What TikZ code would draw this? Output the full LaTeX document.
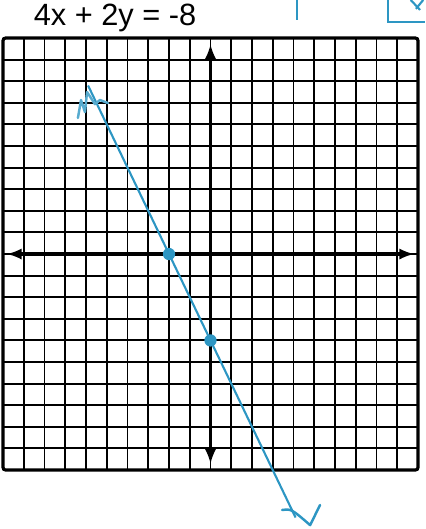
\documentclass[tikz,border=0pt]{standalone}
\usepackage{fontspec}
\setmainfont{Liberation Sans}
\usepackage{tikz}
\usetikzlibrary{arrows}
\usetikzlibrary{calc}

\definecolor{pen}{RGB}{45,150,195}

\begin{document}
\begin{tikzpicture}[x=0.415cm, y=0.432cm]
	\useasboundingbox (-10.145,-12.73) rectangle (10.34,11.76);
	\def\n{10} % half width of the grid
	\coordinate (O) at (0,0);
	\coordinate (SW) at (-\n,-\n);
	\coordinate (NE) at (\n,\n);
	
	% equation
	\node[font=\fontsize{17.5}{20}\selectfont, inner sep=0pt] (title) at (-4.6,10.93) {4x + 2y = -8};
	
	% grid
	\draw[line width=1.1pt, step=1] (SW) grid (NE);
	\draw[line width=1.8pt, rounded corners=1.5pt] (SW) rectangle (NE);
	
	% axes
	\draw[latex-latex, line width=1.8pt] (-9.8,0) -- (9.8,0);
	\draw[latex-latex, line width=1.8pt] (0,-9.7) -- (0,9.7);
	
	% line through the intercepts
	\coordinate (XI) at (-2,0);
	\coordinate (YI) at (0,-4);
	\coordinate (P) at (-5.9,7.8);
	\coordinate (Q) at (4.1,-12.2);
	\draw[pen, line width=1.2pt] (P) -- (Q);
	\fill[pen] (XI) circle (3.5pt);
	\fill[pen] (YI) circle (3.5pt);
	
	% hand drawn ends
	\draw[pen!80, line width=1.4pt, line cap=round, line join=round]
		(-6.39,6.30) -- (-6.24,7.13) -- (-6.05,6.57) -- (-5.95,7.5) -- (-5.57,6.94) -- (-5.33,7.13) -- (-4.94,6.99);
	\draw[pen, line width=1.4pt, line cap=round, line join=round]
		(3.45,-11.85) .. controls (3.9,-11.8) .. (4.8,-12.55) -- (5.28,-11.62);
	
	% marks cut off at the top
	\draw[pen, line width=1.2pt] (4.17,11.76) -- (4.17,10.83);
	\draw[pen, line width=1.2pt] (8.55,11.76) -- (8.55,10.74) -- (10.34,10.74);
	\draw[pen, line width=1.2pt] (9.65,11.76) -- (10.1,11.3);
	\draw[pen, line width=1.2pt] (10.25,11.76) -- (9.9,11.35);
	\end{tikzpicture}
\end{document}
